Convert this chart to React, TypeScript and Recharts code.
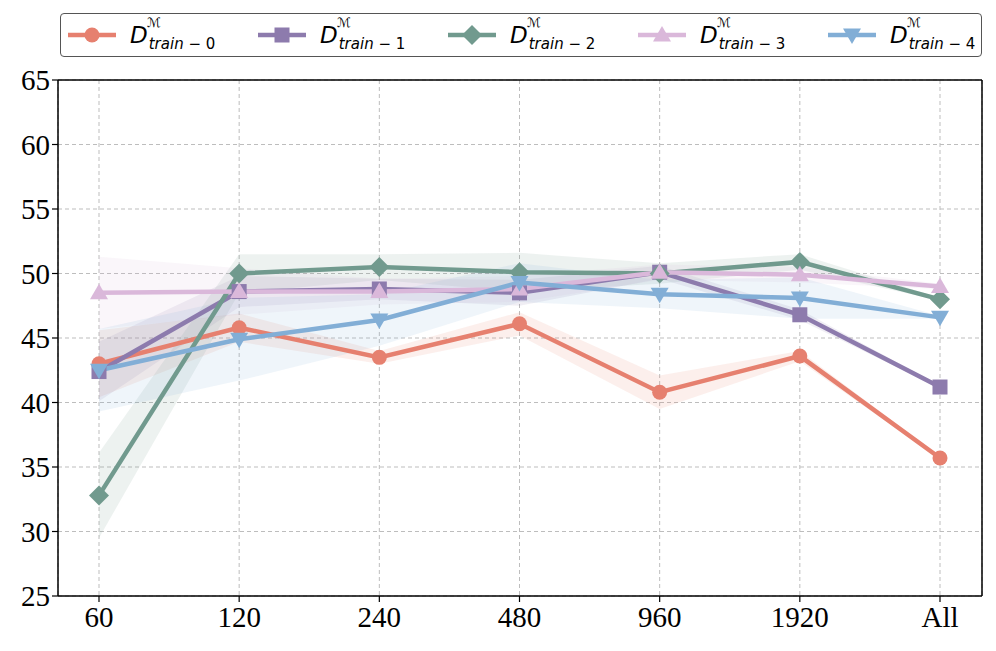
import React from "react";
import {
  ComposedChart,
  Line,
  Area,
  XAxis,
  YAxis,
  CartesianGrid,
} from "recharts";

const categories = ["60", "120", "240", "480", "960", "1920", "All"];

const d0Mean = [43.0, 45.8, 43.5, 46.1, 40.8, 43.6, 35.7];
const d0Std = [2.6, 1.1, 0.5, 0.9, 1.3, 0.4, 0.1];
const d1Mean = [42.4, 48.6, 48.8, 48.5, 50.1, 46.8, 41.2];
const d1Std = [2.3, 1.2, 0.8, 1.0, 0.5, 0.4, 0.1];
const d2Mean = [32.8, 50.0, 50.5, 50.1, 50.0, 50.9, 48.0];
const d2Std = [3.3, 1.5, 1.0, 1.5, 0.8, 0.6, 0.1];
const d3Mean = [48.5, 48.6, 48.6, 48.8, 50.1, 49.9, 49.0];
const d3Std = [2.8, 1.8, 1.0, 1.0, 0.6, 0.6, 0.2];
const d4Mean = [42.5, 44.9, 46.4, 49.3, 48.4, 48.1, 46.6];
const d4Std = [3.2, 3.2, 2.0, 1.5, 1.1, 1.6, 0.1];

const yTicks = [25, 30, 35, 40, 45, 50, 55, 60, 65];

type Shape = "circle" | "square" | "diamond" | "up" | "down";

const series: { key: string; idx: string; color: string; shape: Shape; mean: number[]; std: number[] }[] = [
  { key: "d0", idx: "0", color: "#e6806f", shape: "circle", mean: d0Mean, std: d0Std },
  { key: "d1", idx: "1", color: "#8d7bad", shape: "square", mean: d1Mean, std: d1Std },
  { key: "d2", idx: "2", color: "#719a8e", shape: "diamond", mean: d2Mean, std: d2Std },
  { key: "d3", idx: "3", color: "#dab8da", shape: "up", mean: d3Mean, std: d3Std },
  { key: "d4", idx: "4", color: "#82aed6", shape: "down", mean: d4Mean, std: d4Std },
];

const data = categories.map((cat, i) => {
  const row: any = { cat };
  series.forEach((s) => {
    row[s.key] = s.mean[i];
    row[s.key + "band"] = [s.mean[i] - s.std[i], s.mean[i] + s.std[i]];
  });
  return row;
});

function Marker({ cx, cy, shape, color }: { cx: number; cy: number; shape: Shape; color: string }) {
  if (cx == null || cy == null) return null;
  switch (shape) {
    case "circle":
      return <circle cx={cx} cy={cy} r={7.5} fill={color} />;
    case "square":
      return <rect x={cx - 7.5} y={cy - 7.5} width={15} height={15} fill={color} />;
    case "diamond":
      return <polygon points={`${cx},${cy - 10} ${cx + 10},${cy} ${cx},${cy + 10} ${cx - 10},${cy}`} fill={color} />;
    case "up":
      return <polygon points={`${cx},${cy - 9} ${cx + 9},${cy + 6.5} ${cx - 9},${cy + 6.5}`} fill={color} />;
    case "down":
      return <polygon points={`${cx},${cy + 9} ${cx + 9},${cy - 6.5} ${cx - 9},${cy - 6.5}`} fill={color} />;
  }
  return null;
}

const tickStyle = { fontFamily: "Liberation Serif", fontSize: 29, fill: "#000" };

function LegendBox() {
  return (
    <div
      style={{
        position: "absolute",
        left: 60,
        top: 13,
        width: 920,
        height: 42,
        border: "1.5px solid #555",
        borderRadius: 4,
        background: "#fff",
        fontFamily: "DejaVu Sans",
        zIndex: 2,
      }}
    >
      {series.map((s, i) => (
        <div key={s.key} style={{ position: "absolute", left: 6 + i * 190, top: 0, height: 42, display: "flex", alignItems: "center" }}>
          <svg width={50} height={24}>
            <line x1={1} y1={12} x2={49} y2={12} stroke={s.color} strokeWidth={4.5} />
            <Marker cx={25} cy={12} shape={s.shape} color={s.color} />
          </svg>
          <span style={{ marginLeft: 13, position: "relative", fontStyle: "italic", fontSize: 23, color: "#000", lineHeight: 1 }}>
            D
            <span style={{ position: "absolute", left: 17, top: -8, fontSize: 13, fontStyle: "italic", fontFamily: "DejaVu Sans" }}>ℳ</span>
            <span style={{ position: "relative", left: 1, top: 6, fontSize: 15 }}>
              train − <span style={{ fontStyle: "normal" }}>{s.idx}</span>
            </span>
          </span>
        </div>
      ))}
    </div>
  );
}

export default function App() {
  return (
    <div style={{ position: "absolute", left: 0, top: 0, width: 996, height: 651, background: "#fff" }}>
      <LegendBox />
      <ComposedChart
        width={996}
        height={651}
        data={data}
        margin={{ top: 79, right: 13, bottom: 0, left: 0 }}
      >
        <CartesianGrid stroke="#bdbdbd" strokeDasharray="4 3" strokeWidth={1} />
        <XAxis
          dataKey="cat"
          height={55}
          padding={{ left: 41, right: 42 }}
          tick={tickStyle}
          tickLine={{ stroke: "#000", strokeWidth: 1.2 }}
          tickSize={6}
          axisLine={{ stroke: "#000", strokeWidth: 1.5 }}
          tickMargin={4}
          interval={0}
        />
        <XAxis xAxisId="top" orientation="top" dataKey="cat" height={1} tick={false} tickLine={false} axisLine={{ stroke: "#000", strokeWidth: 1.5 }} />
        <YAxis
          domain={[25, 65]}
          ticks={yTicks}
          width={58}
          tick={tickStyle}
          tickLine={{ stroke: "#000", strokeWidth: 1.2 }}
          tickSize={6}
          axisLine={{ stroke: "#000", strokeWidth: 1.5 }}
          allowDataOverflow
        />
        <YAxis yAxisId="right" orientation="right" domain={[25, 65]} width={1} tick={false} tickLine={false} axisLine={{ stroke: "#000", strokeWidth: 1.5 }} />
        {series.map((s) => (
          <Area
            key={s.key + "band"}
            dataKey={s.key + "band"}
            type="linear"
            stroke="none"
            fill={s.color}
            fillOpacity={0.13}
            isAnimationActive={false}
            activeDot={false}
          />
        ))}
        {series.map((s) => (
          <Line
            key={s.key}
            dataKey={s.key}
            type="linear"
            stroke={s.color}
            strokeWidth={4.5}
            isAnimationActive={false}
            activeDot={false}
            dot={(p: any) => <Marker key={s.key + p.index} cx={p.cx} cy={p.cy} shape={s.shape} color={s.color} />}
          />
        ))}
      </ComposedChart>
    </div>
  );
}
